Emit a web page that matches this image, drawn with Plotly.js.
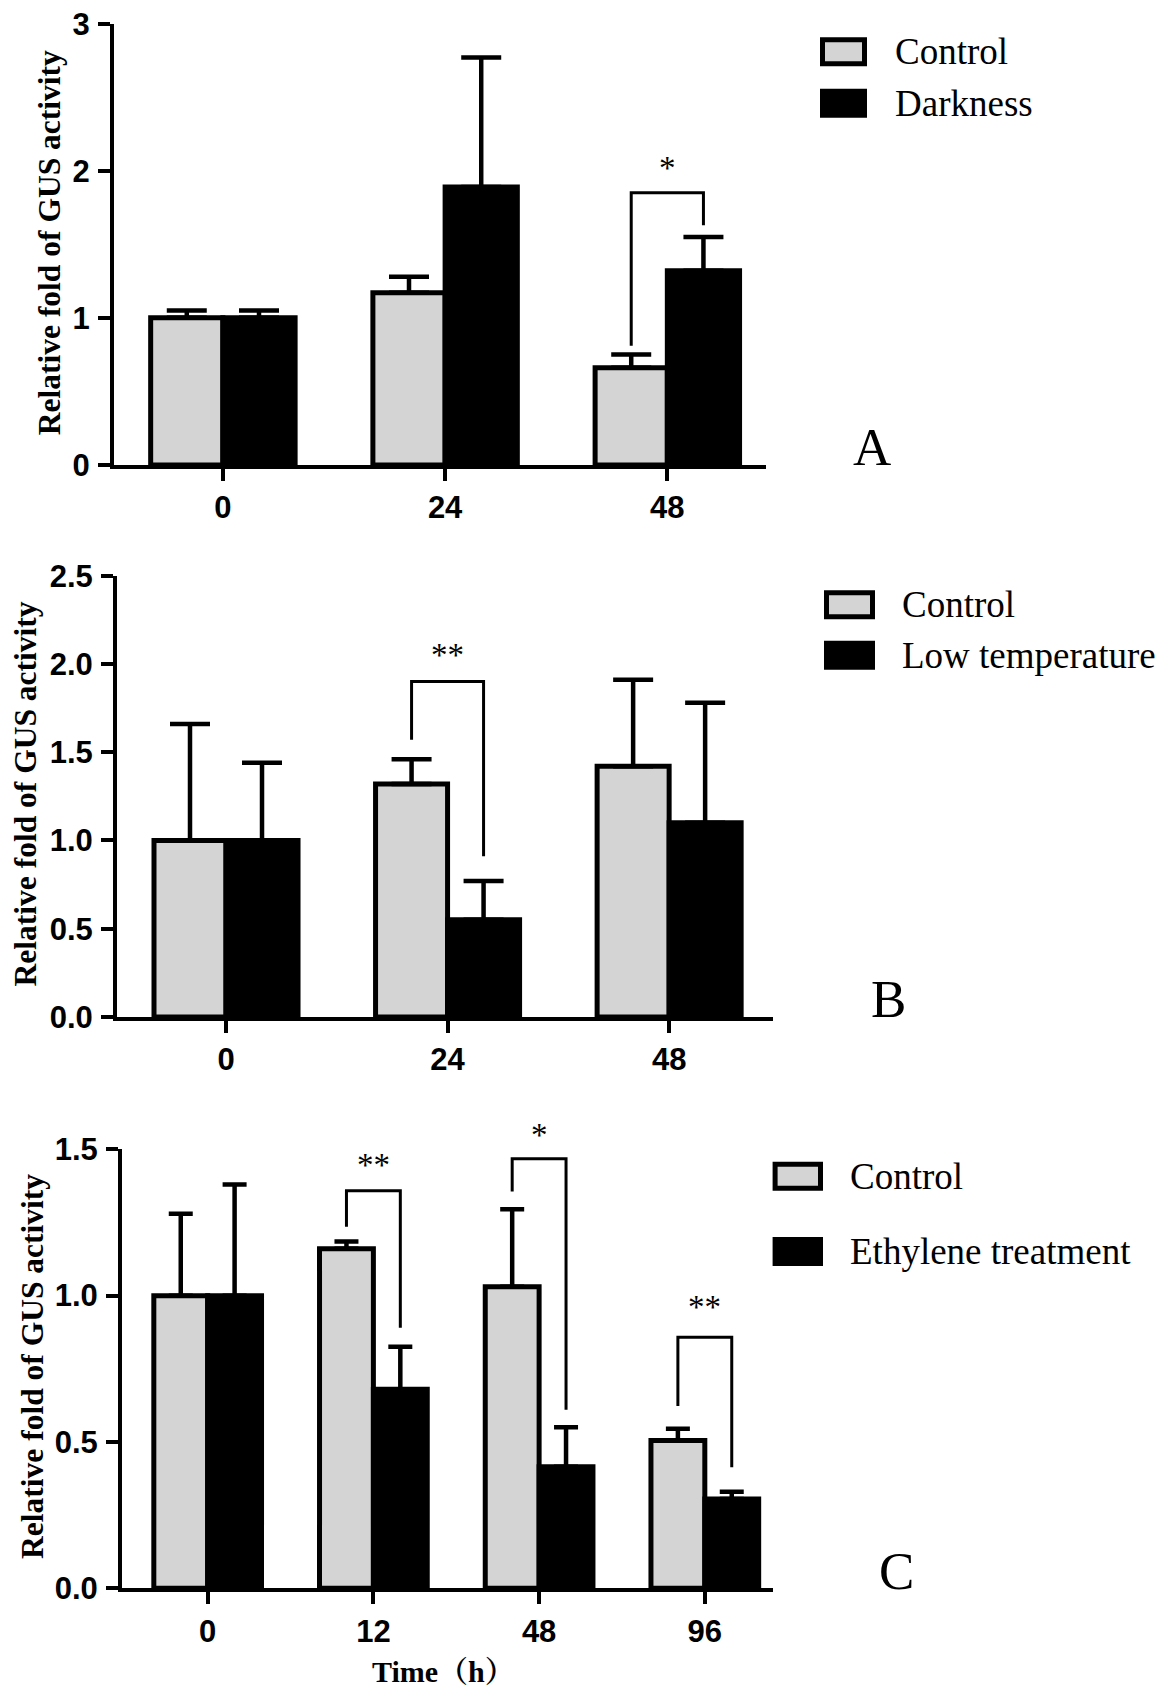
<!DOCTYPE html>
<html><head><meta charset="utf-8">
<script src="https://cdn.plot.ly/plotly-3.0.1.min.js"></script>
<style>html,body{margin:0;padding:0;background:#fff;} #chart{width:1174px;height:1688px;}</style>
</head><body><div id="chart"></div>
<script>
// ---------- Panel A : darkness ----------
const timesA = ['0', '24', '48'];
const seriesA = ['Control', 'Darkness'];
const controlA = [1.00, 1.17, 0.66];
const controlErrA = [0.05, 0.11, 0.09];
const treatA = [1.00, 1.89, 1.32];
const treatErrA = [0.05, 0.88, 0.23];
const yTicksA = [0, 1, 2, 3];
// significance brackets: group index, label, left-leg bottom, top, right-leg bottom, label height
const sigIdxA = [2];
const sigTextA = ['*'];
const sigLeftA = [0.81];
const sigTopA = [1.85];
const sigRightA = [1.63];
const sigStarA = [2.02];

// ---------- Panel B : low temperature ----------
const timesB = ['0', '24', '48'];
const seriesB = ['Control', 'Low temperature'];
const controlB = [1.00, 1.32, 1.42];
const controlErrB = [0.66, 0.14, 0.49];
const treatB = [1.00, 0.55, 1.10];
const treatErrB = [0.44, 0.22, 0.68];
const yTicksB = [0, 0.5, 1.0, 1.5, 2.0, 2.5];
const sigIdxB = [1];
const sigTextB = ['**'];
const sigLeftB = [1.57];
const sigTopB = [1.90];
const sigRightB = [0.91];
const sigStarB = [2.05];

// ---------- Panel C : ethylene ----------
const timesC = ['0', '12', '48', '96'];
const seriesC = ['Control', 'Ethylene treatment'];
const controlC = [1.00, 1.16, 1.03, 0.505];
const controlErrC = [0.28, 0.025, 0.265, 0.04];
const treatC = [1.00, 0.68, 0.415, 0.305];
const treatErrC = [0.38, 0.145, 0.135, 0.025];
const yTicksC = [0, 0.5, 1.0, 1.5];
const sigIdxC = [1, 2, 3];
const sigTextC = ['**', '*', '**'];
const sigLeftC = [1.235, 1.356, 0.623];
const sigTopC = [1.358, 1.468, 0.858];
const sigRightC = [0.89, 0.61, 0.414];
const sigStarC = [1.445, 1.55, 0.96];

const yTitle = 'Relative fold of GUS activity';
const xTitleC = 'Time（h）';
const panelLetters = ['A', 'B', 'C'];

// ---------- styling / layout geometry ----------
const W = 1174, H = 1688;
const GREY = '#d4d4d4';
const BARGAP = 0.35;
const OFF = (1 - BARGAP) / 4;
const px = v => v / W;
const py = v => 1 - v / H;

const serif = 'Liberation Serif, Times New Roman, Noto Serif CJK SC, Noto Sans CJK SC, serif';
const sans = 'Liberation Sans, Arial, sans-serif';

const panels = [
  {times: timesA, names: seriesA, c: controlA, ce: controlErrA, t: treatA, te: treatErrA, yt: yTicksA, fmt: '',
   sIdx: sigIdxA, sTxt: sigTextA, sL: sigLeftA, sT: sigTopA, sR: sigRightA, sS: sigStarA,
   dom: {x: [114, 766], y: [23.7, 464.9]}, xr: [-0.490, 2.444], cap: 20,
   leg: {x0: 820, x1: 867, y: [51.7, 103.3], tx: 893}, letter: [871.6, 446.6], ytl: [49.5, 242.7]},
  {times: timesB, names: seriesB, c: controlB, ce: controlErrB, t: treatB, te: treatErrB, yt: yTicksB, fmt: '.1f',
   sIdx: sigIdxB, sTxt: sigTextB, sL: sigLeftB, sT: sigTopB, sR: sigRightB, sS: sigStarB,
   dom: {x: [117, 772.6], y: [575.7, 1016.9]}, xr: [-0.492, 2.467], cap: 20,
   leg: {x0: 824, x1: 875, y: [604.8, 655.3], tx: 900}, letter: [888.9, 998.6], ytl: [25.8, 793.6]},
  {times: timesC, names: seriesC, c: controlC, ce: controlErrC, t: treatC, te: treatErrC, yt: yTicksC, fmt: '.1f',
   sIdx: sigIdxC, sTxt: sigTextC, sL: sigLeftC, sT: sigTopC, sR: sigRightC, sS: sigStarC,
   dom: {x: [122, 772.6], y: [1149.3, 1588.3]}, xr: [-0.517, 3.409], cap: 12,
   leg: {x0: 772.6, x1: 823, y: [1176.2, 1251.5], tx: 848}, letter: [896.4, 1571.1], ytl: [32.3, 1366.6]}
];

const data = [];
const shapes = [];
const annotations = [];
const layout = {
  width: W, height: H,
  margin: {l: 0, r: 0, t: 0, b: 0},
  paper_bgcolor: '#fff', plot_bgcolor: 'rgba(0,0,0,0)',
  barmode: 'group', bargap: BARGAP, bargroupgap: 0,
  showlegend: false,
  font: {family: sans, color: '#000'}
};

panels.forEach((p, k) => {
  const n = k === 0 ? '' : String(k + 1);
  const xa = 'x' + n, ya = 'y' + n;
  const idx = p.times.map((_, i) => i);
  const zeros = p.times.map(() => 0);
  const yMax = p.yt[p.yt.length - 1];
  const err = (arr) => ({type: 'data', symmetric: false, array: arr, arrayminus: zeros,
                         color: '#000', thickness: 4.5, width: p.cap});
  data.push({type: 'bar', x: idx, y: p.c, name: p.names[0], xaxis: xa, yaxis: ya,
             marker: {color: GREY, line: {color: '#000', width: 5}}, error_y: err(p.ce), hoverinfo: 'skip'});
  data.push({type: 'bar', x: idx, y: p.t, name: p.names[1], xaxis: xa, yaxis: ya,
             marker: {color: '#000', line: {color: '#000', width: 5}}, error_y: err(p.te), hoverinfo: 'skip'});

  const axCommon = {showline: true, linewidth: 4, linecolor: '#000', ticks: 'outside', ticklen: 12,
                    tickwidth: 4, tickcolor: '#000', showgrid: false, zeroline: false, fixedrange: true,
                    tickfont: {family: sans, size: 31, weight: 700, color: '#000'}};
  layout['xaxis' + n] = Object.assign({}, axCommon, {
    domain: [px(p.dom.x[0]), px(p.dom.x[1])], anchor: ya, range: p.xr,
    tickmode: 'array', tickvals: idx, ticktext: p.times
  });
  layout['yaxis' + n] = Object.assign({}, axCommon, {
    domain: [py(p.dom.y[1]), py(p.dom.y[0])], anchor: xa, range: [0, yMax],
    tickmode: 'array', tickvals: p.yt, ticktext: p.yt.map(v => p.fmt ? v.toFixed(1) : String(v)),
    ticklabelstandoff: 2
  });

  // significance brackets
  p.sIdx.forEach((g, j) => {
    const xl = g - OFF, xr = g + OFF;
    shapes.push({type: 'path', xref: xa, yref: ya, layer: 'above',
      path: `M ${xl} ${p.sL[j]} L ${xl} ${p.sT[j]} L ${xr} ${p.sT[j]} L ${xr} ${p.sR[j]}`,
      line: {color: '#000', width: 3}});
    // label placed relative to the y-axis domain so it may sit above the axis top
    annotations.push({xref: xa, yref: ya + ' domain', x: g, y: p.sS[j] / yMax, text: p.sTxt[j], showarrow: false,
      xanchor: 'center', yanchor: 'middle', font: {family: serif, size: 33, color: '#000'}});
  });

  // legend (drawn boxes + text)
  p.names.forEach((nm, j) => {
    const yc = p.leg.y[j];
    shapes.push({type: 'rect', xref: 'paper', yref: 'paper', layer: 'above',
      x0: px(p.leg.x0 + 2.5), x1: px(p.leg.x1 - 2.5), y0: py(yc + 12), y1: py(yc - 12),
      fillcolor: j === 0 ? GREY : '#000', line: {color: '#000', width: 5}});
    annotations.push({xref: 'paper', yref: 'paper', x: px(p.leg.tx), y: py(yc), text: nm, showarrow: false,
      xanchor: 'left', yanchor: 'middle', font: {family: serif, size: 37, color: '#000'}});
  });

  // panel letter
  annotations.push({xref: 'paper', yref: 'paper', x: px(p.letter[0]), y: py(p.letter[1]), text: panelLetters[k],
    showarrow: false, xanchor: 'center', yanchor: 'middle', font: {family: serif, size: 53, color: '#000'}});

  // y-axis title
  annotations.push({xref: 'paper', yref: 'paper', x: px(p.ytl[0]), y: py(p.ytl[1]), text: yTitle,
    textangle: -90, showarrow: false, xanchor: 'center', yanchor: 'middle',
    font: {family: serif, size: 31.5, weight: 700, color: '#000'}});
});

// x-axis title (bottom panel)
annotations.push({xref: 'paper', yref: 'paper', x: px(443.4), y: py(1671.2), text: xTitleC, showarrow: false,
  xanchor: 'center', yanchor: 'middle', font: {family: serif, size: 30, weight: 700, color: '#000'}});

layout.shapes = shapes;
layout.annotations = annotations;

Plotly.newPlot('chart', data, layout, {displayModeBar: false, staticPlot: true});
</script>
</body></html>
